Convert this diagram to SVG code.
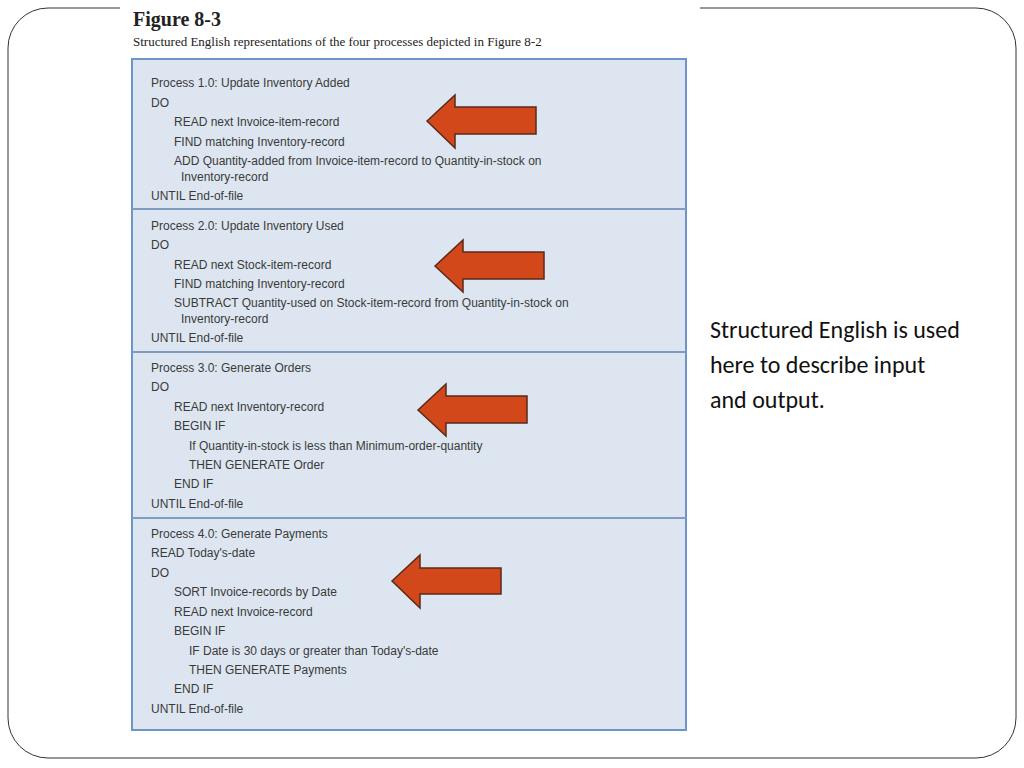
<svg xmlns="http://www.w3.org/2000/svg" width="1024" height="768" viewBox="0 0 1024 768">
<style>
.t{font-family:"Liberation Sans",Arial,sans-serif;font-size:12px;fill:#3a3a3a}
.arr{fill:#d2481a;stroke:#5a2a1a;stroke-width:1.5}
.div{stroke:#7f9cc0;stroke-width:2}
</style>
<rect width="1024" height="768" fill="#fff"/>
<rect id="frame" x="8" y="8" width="1008" height="750" rx="40" fill="none" stroke="#333" stroke-width="1"/>
<rect x="120" y="0" width="580" height="40" fill="#fff"/>
<text x="133" y="26" font-family="Liberation Serif,serif" font-size="20" font-weight="bold" fill="#222">Figure 8-3</text>
<text x="133" y="46" font-family="Liberation Serif,serif" font-size="13" fill="#222">Structured English representations of the four processes depicted in Figure 8-2</text>
<rect x="132" y="59" width="554" height="671" fill="#dde6f0" stroke="#6d95c8" stroke-width="2"/>
<line class="div" x1="132" y1="209" x2="686" y2="209"/>
<line class="div" x1="132" y1="352" x2="686" y2="352"/>
<line class="div" x1="132" y1="518" x2="686" y2="518"/>
<g id="p1" class="t">
<text x="151" y="87">Process 1.0: Update Inventory Added</text>
<text x="151" y="107">DO</text>
<text x="174" y="126">READ next Invoice-item-record</text>
<text x="174" y="146">FIND matching Inventory-record</text>
<text x="174" y="165">ADD Quantity-added from Invoice-item-record to Quantity-in-stock on</text>
<text x="181" y="181">Inventory-record</text>
<text x="151" y="200">UNTIL End-of-file</text>
</g>
<g id="p2" class="t">
<text x="151" y="230">Process 2.0: Update Inventory Used</text>
<text x="151" y="249">DO</text>
<text x="174" y="269">READ next Stock-item-record</text>
<text x="174" y="288">FIND matching Inventory-record</text>
<text x="174" y="307">SUBTRACT Quantity-used on Stock-item-record from Quantity-in-stock on</text>
<text x="181" y="323">Inventory-record</text>
<text x="151" y="342">UNTIL End-of-file</text>
</g>
<g id="p3" class="t">
<text x="151" y="372">Process 3.0: Generate Orders</text>
<text x="151" y="391">DO</text>
<text x="174" y="411">READ next Inventory-record</text>
<text x="174" y="430">BEGIN IF</text>
<text x="189" y="450">If Quantity-in-stock is less than Minimum-order-quantity</text>
<text x="189" y="469">THEN GENERATE Order</text>
<text x="174" y="488">END IF</text>
<text x="151" y="508">UNTIL End-of-file</text>
</g>
<g id="p4" class="t">
<text x="151" y="538">Process 4.0: Generate Payments</text>
<text x="151" y="557">READ Today's-date</text>
<text x="151" y="577">DO</text>
<text x="174" y="596">SORT Invoice-records by Date</text>
<text x="174" y="616">READ next Invoice-record</text>
<text x="174" y="635">BEGIN IF</text>
<text x="189" y="655">IF Date is 30 days or greater than Today's-date</text>
<text x="189" y="674">THEN GENERATE Payments</text>
<text x="174" y="693">END IF</text>
<text x="151" y="713">UNTIL End-of-file</text>
</g>
<g id="arrows">
<polygon class="arr" points="427,121 455,95 455,107 536,107 536,134 455,134 455,148"/>
<polygon class="arr" points="435,266 463,240 463,252 544,252 544,279 463,279 463,292"/>
<polygon class="arr" points="418,410 446,384 446,396 527,396 527,423 446,423 446,436"/>
<polygon class="arr" points="392,581 420,555 420,568 501,568 501,594 420,594 420,608"/>
</g>
<g id="note" font-family="Calibri,Carlito,'Liberation Sans',sans-serif" font-size="24" fill="#111">
<text x="710" y="338">Structured English is used</text>
<text x="710" y="373">here to describe input</text>
<text x="710" y="408">and output.</text>
</g>
</svg>
